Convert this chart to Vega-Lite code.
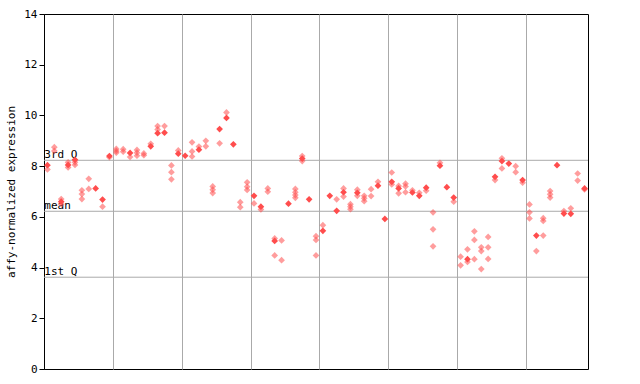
{
  "$schema": "https://vega.github.io/schema/vega-lite/v6.json",
  "width": 544,
  "height": 355,
  "autosize": {"type": "none"},
  "padding": {"left": 44, "top": 14, "right": 52, "bottom": 15},
  "background": "white",
  "config": {
    "view": {"stroke": "black", "strokeWidth": 1},
    "axis": {"labelFont": "DejaVu Sans Mono", "titleFont": "DejaVu Sans Mono"}
  },
  "datasets": {
    "stats": [
      {"label": "3rd Q", "v": 8.23},
      {"label": "mean", "v": 6.22},
      {"label": "1st Q", "v": 3.62}
    ],
    "pts": [
      {"i":0,"v":8.04,"t":"f"},{"i":0,"v":7.87,"t":"h"},
      {"i":1,"v":8.75,"t":"h"},{"i":1,"v":8.6,"t":"h"},
      {"i":2,"v":6.7,"t":"h"},{"i":2,"v":6.6,"t":"f"},{"i":2,"v":6.5,"t":"h"},
      {"i":3,"v":8.15,"t":"h"},{"i":3,"v":8.05,"t":"f"},{"i":3,"v":7.95,"t":"h"},
      {"i":4,"v":8.25,"t":"f"},{"i":4,"v":8.15,"t":"h"},{"i":4,"v":8.05,"t":"h"},
      {"i":5,"v":7.05,"t":"h"},{"i":5,"v":6.9,"t":"h"},{"i":5,"v":6.7,"t":"h"},
      {"i":6,"v":7.5,"t":"h"},{"i":6,"v":7.1,"t":"h"},
      {"i":7,"v":7.12,"t":"f"},
      {"i":8,"v":6.68,"t":"f"},{"i":8,"v":6.4,"t":"h"},
      {"i":9,"v":8.4,"t":"f"},{"i":9,"v":8.35,"t":"h"},
      {"i":10,"v":8.68,"t":"h"},{"i":10,"v":8.6,"t":"h"},{"i":10,"v":8.53,"t":"h"},
      {"i":11,"v":8.67,"t":"h"},{"i":11,"v":8.57,"t":"h"},
      {"i":12,"v":8.52,"t":"f"},{"i":12,"v":8.36,"t":"h"},
      {"i":13,"v":8.64,"t":"h"},{"i":13,"v":8.53,"t":"h"},{"i":13,"v":8.41,"t":"h"},
      {"i":14,"v":8.5,"t":"h"},{"i":14,"v":8.43,"t":"h"},
      {"i":15,"v":8.88,"t":"h"},{"i":15,"v":8.78,"t":"f"},
      {"i":16,"v":9.58,"t":"h"},{"i":16,"v":9.45,"t":"h"},{"i":16,"v":9.3,"t":"f"},
      {"i":17,"v":9.58,"t":"h"},{"i":17,"v":9.32,"t":"f"},
      {"i":18,"v":8.03,"t":"h"},{"i":18,"v":7.76,"t":"h"},{"i":18,"v":7.48,"t":"h"},
      {"i":19,"v":8.62,"t":"h"},{"i":19,"v":8.49,"t":"f"},
      {"i":20,"v":8.41,"t":"f"},
      {"i":21,"v":8.94,"t":"h"},{"i":21,"v":8.58,"t":"h"},{"i":21,"v":8.38,"t":"h"},
      {"i":22,"v":8.77,"t":"h"},{"i":22,"v":8.65,"t":"f"},
      {"i":23,"v":9.0,"t":"h"},{"i":23,"v":8.78,"t":"h"},
      {"i":24,"v":7.2,"t":"h"},{"i":24,"v":7.07,"t":"h"},{"i":24,"v":6.94,"t":"h"},
      {"i":25,"v":9.46,"t":"f"},{"i":25,"v":8.9,"t":"h"},
      {"i":26,"v":10.12,"t":"h"},{"i":26,"v":9.9,"t":"f"},
      {"i":27,"v":8.86,"t":"f"},
      {"i":28,"v":6.58,"t":"h"},{"i":28,"v":6.38,"t":"h"},
      {"i":29,"v":7.36,"t":"h"},{"i":29,"v":7.19,"t":"h"},{"i":29,"v":7.06,"t":"h"},
      {"i":30,"v":6.83,"t":"f"},{"i":30,"v":6.53,"t":"h"},
      {"i":31,"v":6.4,"t":"f"},{"i":31,"v":6.29,"t":"h"},
      {"i":32,"v":7.12,"t":"h"},{"i":32,"v":6.99,"t":"h"},
      {"i":33,"v":5.15,"t":"h"},{"i":33,"v":5.05,"t":"f"},{"i":33,"v":4.48,"t":"h"},
      {"i":34,"v":5.07,"t":"h"},{"i":34,"v":4.29,"t":"h"},
      {"i":35,"v":6.52,"t":"f"},
      {"i":36,"v":7.1,"t":"h"},{"i":36,"v":6.97,"t":"h"},{"i":36,"v":6.86,"t":"h"},{"i":36,"v":6.75,"t":"h"},
      {"i":37,"v":8.4,"t":"h"},{"i":37,"v":8.3,"t":"f"},{"i":37,"v":8.2,"t":"h"},
      {"i":38,"v":6.69,"t":"f"},
      {"i":39,"v":5.24,"t":"h"},{"i":39,"v":5.09,"t":"h"},{"i":39,"v":4.48,"t":"h"},
      {"i":40,"v":5.67,"t":"h"},{"i":40,"v":5.45,"t":"f"},
      {"i":41,"v":6.83,"t":"f"},
      {"i":42,"v":6.69,"t":"h"},{"i":42,"v":6.24,"t":"f"},
      {"i":43,"v":7.12,"t":"h"},{"i":43,"v":6.97,"t":"f"},{"i":43,"v":6.8,"t":"h"},
      {"i":44,"v":6.5,"t":"h"},{"i":44,"v":6.4,"t":"h"},{"i":44,"v":6.3,"t":"h"},
      {"i":45,"v":7.07,"t":"h"},{"i":45,"v":6.95,"t":"f"},{"i":45,"v":6.83,"t":"h"},
      {"i":46,"v":6.83,"t":"h"},{"i":46,"v":6.73,"t":"h"},{"i":46,"v":6.62,"t":"h"},
      {"i":47,"v":7.09,"t":"h"},{"i":47,"v":6.82,"t":"h"},
      {"i":48,"v":7.38,"t":"h"},{"i":48,"v":7.23,"t":"f"},
      {"i":49,"v":5.92,"t":"f"},
      {"i":50,"v":7.75,"t":"h"},{"i":50,"v":7.38,"t":"f"},{"i":50,"v":7.28,"t":"h"},
      {"i":51,"v":7.22,"t":"h"},{"i":51,"v":7.12,"t":"f"},{"i":51,"v":6.93,"t":"h"},
      {"i":52,"v":7.31,"t":"h"},{"i":52,"v":7.2,"t":"h"},{"i":52,"v":6.97,"t":"h"},
      {"i":53,"v":7.05,"t":"h"},{"i":53,"v":6.96,"t":"f"},
      {"i":54,"v":6.95,"t":"h"},{"i":54,"v":6.83,"t":"f"},
      {"i":55,"v":7.15,"t":"f"},{"i":55,"v":7.03,"t":"h"},
      {"i":56,"v":6.18,"t":"h"},{"i":56,"v":5.51,"t":"h"},{"i":56,"v":4.84,"t":"h"},
      {"i":57,"v":8.13,"t":"h"},{"i":57,"v":8.02,"t":"f"},
      {"i":58,"v":7.17,"t":"f"},
      {"i":59,"v":6.76,"t":"f"},{"i":59,"v":6.6,"t":"h"},
      {"i":60,"v":4.43,"t":"h"},{"i":60,"v":4.09,"t":"h"},
      {"i":61,"v":4.72,"t":"h"},{"i":61,"v":4.33,"t":"f"},{"i":61,"v":4.22,"t":"h"},
      {"i":62,"v":5.43,"t":"h"},{"i":62,"v":5.09,"t":"h"},{"i":62,"v":4.33,"t":"h"},
      {"i":63,"v":4.8,"t":"h"},{"i":63,"v":4.65,"t":"h"},{"i":63,"v":3.94,"t":"h"},
      {"i":64,"v":5.21,"t":"h"},{"i":64,"v":4.8,"t":"h"},{"i":64,"v":4.34,"t":"h"},
      {"i":65,"v":7.58,"t":"f"},{"i":65,"v":7.45,"t":"h"},
      {"i":66,"v":8.31,"t":"h"},{"i":66,"v":8.2,"t":"f"},{"i":66,"v":7.91,"t":"h"},
      {"i":67,"v":8.1,"t":"f"},
      {"i":68,"v":8.0,"t":"h"},{"i":68,"v":7.76,"t":"h"},
      {"i":69,"v":7.45,"t":"f"},{"i":69,"v":7.35,"t":"h"},
      {"i":70,"v":6.49,"t":"h"},{"i":70,"v":6.18,"t":"h"},{"i":70,"v":5.94,"t":"h"},
      {"i":71,"v":5.26,"t":"f"},{"i":71,"v":4.65,"t":"h"},
      {"i":72,"v":5.95,"t":"h"},{"i":72,"v":5.84,"t":"h"},{"i":72,"v":5.26,"t":"h"},
      {"i":73,"v":7.02,"t":"h"},{"i":73,"v":6.89,"t":"h"},{"i":73,"v":6.76,"t":"h"},
      {"i":74,"v":8.04,"t":"f"},
      {"i":75,"v":6.23,"t":"h"},{"i":75,"v":6.13,"t":"f"},
      {"i":76,"v":6.34,"t":"h"},{"i":76,"v":6.12,"t":"f"},
      {"i":77,"v":7.71,"t":"h"},{"i":77,"v":7.43,"t":"h"},
      {"i":78,"v":7.12,"t":"f"},{"i":78,"v":7.08,"t":"h"}
    ]
  },
  "layer": [
    {
      "data": {"name": "stats"},
      "mark": {"type": "rule", "color": "#aaaaaa", "strokeWidth": 1},
      "encoding": {
        "y": {
          "field": "v", "type": "quantitative",
          "scale": {"domain": [0, 14], "nice": false},
          "axis": {
            "values": [0, 2, 4, 6, 8, 10, 12, 14],
            "grid": false,
            "domainColor": "black",
            "tickColor": "black",
            "tickSize": 5,
            "labelColor": "black",
            "labelFontSize": 11,
            "labelPadding": 2,
            "title": "affy-normalized expression",
            "titleColor": "black",
            "titleFontSize": 11,
            "titleFontWeight": "normal",
            "titlePadding": 7
          }
        }
      }
    },
    {
      "data": {"name": "stats"},
      "mark": {"type": "text", "align": "left", "baseline": "alphabetic", "dy": -2, "font": "DejaVu Sans Mono", "fontSize": 11, "color": "black"},
      "encoding": {
        "x": {"datum": -0.45, "type": "quantitative"},
        "y": {"field": "v", "type": "quantitative"},
        "text": {"field": "label"}
      }
    },
    {
      "data": {"name": "pts"},
      "transform": [{"filter": "datum.t === 'h'"}],
      "mark": {"type": "point", "shape": "diamond", "filled": true, "size": 45, "color": "#ff4d4d", "opacity": 0.55},
      "encoding": {
        "x": {
          "field": "i", "type": "quantitative",
          "scale": {"domain": [-0.5, 78.5], "nice": false, "zero": false},
          "axis": {
            "values": [9.5, 19.5, 29.5, 39.5, 49.5, 59.5, 69.5],
            "grid": true, "gridColor": "#aaaaaa", "gridOpacity": 1,
            "labels": false, "ticks": false, "domain": false, "title": null
          }
        },
        "y": {"field": "v", "type": "quantitative"}
      }
    },
    {
      "data": {"name": "pts"},
      "transform": [{"filter": "datum.t === 'f'"}],
      "mark": {"type": "point", "shape": "diamond", "filled": true, "size": 45, "color": "#ff4d4d", "opacity": 1},
      "encoding": {
        "x": {"field": "i", "type": "quantitative"},
        "y": {"field": "v", "type": "quantitative"}
      }
    }
  ]
}
